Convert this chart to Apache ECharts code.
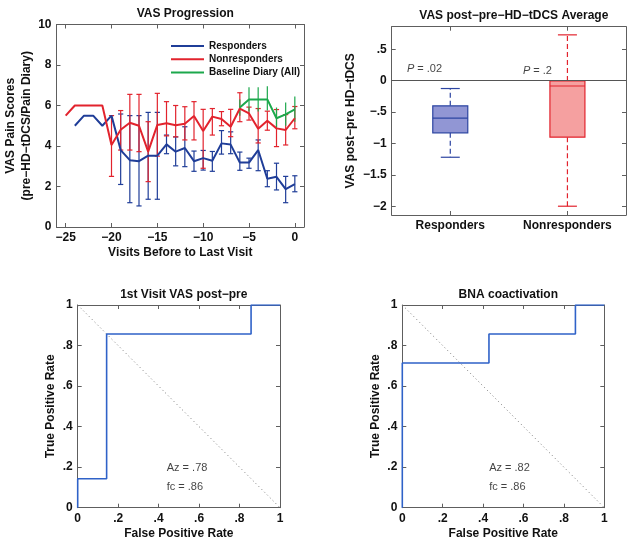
<!DOCTYPE html>
<html><head><meta charset="utf-8">
<script src="https://cdn.jsdelivr.net/npm/echarts@6/dist/echarts.min.js"></script>
<style>html,body{margin:0;padding:0;background:#fff}#c{width:635px;height:545px}</style>
</head><body><div id="c"></div>
<script>
// ---------- DATA ----------
const visits = [-25,-24,-23,-22,-21,-20,-19,-18,-17,-16,-15,-14,-13,-12,-11,-10,-9,-8,-7,-6,-5,-4,-3,-2,-1,0];
const responders = [null,5.0,5.5,5.5,5.0,5.5,3.8,3.3,3.25,3.52,3.52,4.08,3.72,3.9,3.25,3.4,3.27,4.13,4.07,3.18,3.18,3.8,2.38,2.48,1.87,2.12];
const respLow  = [null,null,null,null,null,null,2.1,1.2,1.04,1.37,1.37,3.62,3.02,2.98,2.75,2.81,2.75,3.6,3.62,2.8,2.9,2.78,1.99,1.83,1.2,1.74];
const respHigh = [null,null,null,null,null,null,5.58,5.5,5.5,5.66,5.66,4.54,4.45,4.95,3.75,3.78,3.73,4.76,4.7,3.7,3.4,4.3,2.78,3.15,2.5,2.53];
const nonresponders = [5.5,6.0,6.0,6.0,6.0,4.05,4.8,5.15,5.0,3.72,5.04,5.12,5.02,5.1,5.48,4.74,5.45,5.33,4.95,5.85,5.61,4.85,5.25,4.87,4.79,5.37];
const nonLow  = [null,null,null,null,null,2.5,3.8,3.8,3.72,2.24,3.5,4.5,4.45,4.3,4.3,2.9,4.54,5.0,4.46,5.2,5.28,4.15,4.78,3.97,4.05,4.85];
const nonHigh = [null,null,null,null,null,5.5,5.75,6.55,6.55,5.2,6.6,6.19,6.0,5.94,6.19,5.81,5.85,5.7,5.81,6.63,5.92,5.85,5.72,5.8,5.55,5.95];
const diaryVisits = [-6,-5,-4,-3,-2,-1,0];
const diary     = [5.9,6.3,6.3,6.3,5.37,5.56,5.81];
const diaryLow  = [5.5,5.7,5.7,5.75,4.85,5.0,5.2];
const diaryHigh = [6.3,6.9,6.9,6.95,5.9,6.15,6.45];
const visitTicks = [-25,-20,-15,-10,-5,0];
const visitTickLabels = ['\u221225','\u221220','\u221215','\u221210','\u22125','0'];
const vasTicks = [0,2,4,6,8,10];
const vasTickLabels = ['0','2','4','6','8','10'];

const groups = ['Responders','Nonresponders'];
const groupPos = [1,2];
const boxWhiskerLow  = [-1.22,-2.0];
const boxQ1          = [-0.83,-0.90];
const boxMedian      = [-0.595,-0.085];
const boxQ3          = [-0.40,-0.005];
const boxWhiskerHigh = [-0.125,0.73];
const pTexts = ['.02','.2'];
const pAnchorX = [0.63,1.62];
const pAnchorY = [0.186,0.155];
const diffTicks = [-2,-1.5,-1,-0.5,0,0.5];
const diffTickLabels = ['\u22122','\u22121.5','\u22121','\u2212.5','0','.5'];

const rocTicks = [0,0.2,0.4,0.6,0.8,1];
const rocTickLabels = ['0','.2','.4','.6','.8','1'];
const roc1Fpr = [0,0,0.143,0.143,0.857,0.857,1];
const roc1Tpr = [0,0.143,0.143,0.857,0.857,1,1];
const roc2Fpr = [0,0,0.429,0.429,0.857,0.857,1];
const roc2Tpr = [0,0.714,0.714,0.857,0.857,1,1];
const chanceFpr = [0,1];
const chanceTpr = [1,0];
const roc1Notes = ['Az = .78','fc = .86'];
const roc2Notes = ['Az = .82','fc = .86'];
const noteX = [0.44,0.43];
const noteY = [0.197,0.1];

// ---------- STYLE ----------
const FONT = '"Liberation Sans", Arial, Helvetica, sans-serif';
const FRAME = '#5e5e5e';
const BLUE = '#1f3d98', RED = '#e2232d', GREEN = '#1ca84c', ROC = '#2f62c8';

function fmtFrom(ticks, labels){ return v => { const i = ticks.findIndex(t => Math.abs(t - v) < 1e-6); return i < 0 ? '' : labels[i]; }; }
const nameStyle = {fontFamily:FONT,fontWeight:'bold',fontSize:12,color:'#111',lineHeight:16};

function xPair(gi,min,max,ticks,labels,name,gap){
  return [
    {gridIndex:gi,type:'value',min,max,position:'bottom',name:name||'',nameLocation:'middle',nameGap:gap||0,nameTextStyle:nameStyle,
     axisLine:{show:true,onZero:false,lineStyle:{color:FRAME,width:1}},
     axisTick:{show:true,inside:true,length:4,customValues:ticks,lineStyle:{color:FRAME}},
     axisLabel:{show:true,customValues:ticks,formatter:fmtFrom(ticks,labels),margin:5,color:'#111',fontWeight:'bold',fontSize:12,fontFamily:FONT},
     splitLine:{show:false}},
    {gridIndex:gi,type:'value',min,max,position:'top',
     axisLine:{show:true,onZero:false,lineStyle:{color:FRAME,width:1}},
     axisTick:{show:true,inside:true,length:4,customValues:ticks,lineStyle:{color:FRAME}},
     axisLabel:{show:false},splitLine:{show:false}}
  ];
}
function yPair(gi,min,max,ticks,labels,name,gap){
  return [
    {gridIndex:gi,type:'value',min,max,position:'left',name:name||'',nameLocation:'middle',nameGap:gap||0,nameTextStyle:nameStyle,
     axisLine:{show:true,onZero:false,lineStyle:{color:FRAME,width:1}},
     axisTick:{show:true,inside:true,length:4,customValues:ticks,lineStyle:{color:FRAME}},
     axisLabel:{show:true,customValues:ticks,formatter:fmtFrom(ticks,labels),margin:5,color:'#111',fontWeight:'bold',fontSize:12,fontFamily:FONT},
     splitLine:{show:false}},
    {gridIndex:gi,type:'value',min,max,position:'right',
     axisLine:{show:true,onZero:false,lineStyle:{color:FRAME,width:1}},
     axisTick:{show:true,inside:true,length:4,customValues:ticks,lineStyle:{color:FRAME}},
     axisLabel:{show:false},splitLine:{show:false}}
  ];
}

function errData(xs, lo, hi){ const out=[]; xs.forEach((x,i)=>{ if(lo[i]!=null && hi[i]!=null) out.push([x,lo[i],hi[i]]); }); return out; }
function lineData(xs, ys){ const out=[]; xs.forEach((x,i)=>{ if(ys[i]!=null) out.push([x,ys[i]]); }); return out; }
function errRender(color, capHalf){
  return function(params, api){
    const x = api.value(0);
    const a = api.coord([x, api.value(1)]), b = api.coord([x, api.value(2)]);
    const st = {stroke:color,lineWidth:1.2};
    const ch = [{type:'line',shape:{x1:a[0],y1:a[1],x2:b[0],y2:b[1]},style:st}];
    if(capHalf>0){
      ch.push({type:'line',shape:{x1:a[0]-capHalf,y1:a[1],x2:a[0]+capHalf,y2:a[1]},style:st});
      ch.push({type:'line',shape:{x1:b[0]-capHalf,y1:b[1],x2:b[0]+capHalf,y2:b[1]},style:st});
    }
    return {type:'group',children:ch};
  };
}
function errSeries(xs,lo,hi,color,cap){
  return {type:'custom',xAxisIndex:0,yAxisIndex:0,data:errData(xs,lo,hi),renderItem:errRender(color,cap),encode:{x:0,y:[1,2]},silent:true};
}

const boxFill = ['#9196d4','#f5a0a0'];
const boxStroke = ['#2d45a2','#e2232d'];
const boxData = groupPos.map((p,i)=>[p,boxWhiskerLow[i],boxQ1[i],boxMedian[i],boxQ3[i],boxWhiskerHigh[i]]);
function boxRender(params, api){
  const i = params.dataIndex;
  const c = api.value(0);
  const pMin = api.coord([c,api.value(1)]), pQ1 = api.coord([c,api.value(2)]), pMed = api.coord([c,api.value(3)]),
        pQ3 = api.coord([c,api.value(4)]), pMax = api.coord([c,api.value(5)]);
  const hw = 17.5, cw = 9.5, x = pMed[0];
  const sDash = {stroke:boxStroke[i],lineWidth:1.2,lineDash:[5,3]};
  const sSolid = {stroke:boxStroke[i],lineWidth:1.2};
  return {type:'group',children:[
    {type:'line',shape:{x1:x,y1:pQ3[1],x2:x,y2:pMax[1]},style:sDash},
    {type:'line',shape:{x1:x,y1:pQ1[1],x2:x,y2:pMin[1]},style:sDash},
    {type:'line',shape:{x1:x-cw,y1:pMax[1],x2:x+cw,y2:pMax[1]},style:sSolid},
    {type:'line',shape:{x1:x-cw,y1:pMin[1],x2:x+cw,y2:pMin[1]},style:sSolid},
    {type:'rect',shape:{x:x-hw,y:pQ3[1],width:2*hw,height:pQ1[1]-pQ3[1]},style:{fill:boxFill[i],stroke:boxStroke[i],lineWidth:1.2}},
    {type:'line',shape:{x1:x-hw,y1:pMed[1],x2:x+hw,y2:pMed[1]},style:sSolid}
  ]};
}

function noteSeries(xi, xs, ys, texts, fmt){
  return {type:'scatter',xAxisIndex:xi,yAxisIndex:xi,symbolSize:0,silent:true,
    data: texts.map((t,i)=>({value:[xs[i],ys[i]],name:t})),
    label:{show:true,position:'right',distance:0,formatter:fmt||(p=>p.name),color:'#111',fontSize:11,fontFamily:FONT,
      rich:{i:{fontStyle:'italic',fontSize:11,fontFamily:FONT,color:'#111'}}}};
}

const titleStyle = {fontFamily:FONT,fontWeight:'bold',fontSize:12,color:'#111'};
const option = {
  backgroundColor:'#fff',
  animation:false,
  title:[
    {text:'VAS Progression',left:180.3,top:3,textAlign:'center',textStyle:titleStyle},
    {text:'VAS post\u2212pre\u2212HD\u2212tDCS Average',left:508.8,top:5,textAlign:'center',textStyle:titleStyle},
    {text:'1st Visit VAS post\u2212pre',left:178.8,top:284,textAlign:'center',textStyle:titleStyle},
    {text:'BNA coactivation',left:503.3,top:284,textAlign:'center',textStyle:titleStyle}
  ],
  legend:{left:165,top:36,orient:'vertical',itemWidth:33,itemHeight:10,itemGap:3.3,
    data:['Responders','Nonresponders','Baseline Diary (All)'],
    textStyle:{fontFamily:FONT,fontWeight:'bold',fontSize:10,color:'#111',padding:[0,0,0,0]},itemStyle:{opacity:0}},
  grid:[
    {left:56.5,top:24.5,width:247.5,height:202.5,outerBoundsMode:'none'},
    {left:391.7,top:26.7,width:234.3,height:188.3,outerBoundsMode:'none'},
    {left:77.7,top:305,width:202.3,height:202.7,outerBoundsMode:'none'},
    {left:402.3,top:305,width:202,height:202.7,outerBoundsMode:'none'}
  ],
  xAxis:[].concat(
    xPair(0,-26,1,visitTicks,visitTickLabels,'Visits Before to Last Visit',17.5),
    xPair(1,0.5,2.5,groupPos,groups,'',0),
    xPair(2,0,1,rocTicks,rocTickLabels,'False Positive Rate',17.5),
    xPair(3,0,1,rocTicks,rocTickLabels,'False Positive Rate',17.5)
  ),
  yAxis:[].concat(
    yPair(0,0,10,vasTicks,vasTickLabels,'VAS Pain Scores\n(pre\u2212HD\u2212tDCS/Pain Diary)',19),
    yPair(1,-2.14,0.86,diffTicks,diffTickLabels,'VAS post\u2212pre HD\u2212tDCS',31),
    yPair(2,0,1,rocTicks,rocTickLabels,'True Positive Rate',17.5),
    yPair(3,0,1,rocTicks,rocTickLabels,'True Positive Rate',17)
  ),
  series:[
    errSeries(visits,respLow,respHigh,BLUE,2.6),
    {name:'Responders',type:'line',xAxisIndex:0,yAxisIndex:0,data:lineData(visits,responders),symbol:'none',lineStyle:{color:BLUE,width:2},itemStyle:{color:BLUE}},
    errSeries(visits,nonLow,nonHigh,RED,2.6),
    {name:'Nonresponders',type:'line',xAxisIndex:0,yAxisIndex:0,data:lineData(visits,nonresponders),symbol:'none',lineStyle:{color:RED,width:2},itemStyle:{color:RED}},
    errSeries(diaryVisits,diaryLow,diaryHigh,GREEN,0),
    {name:'Baseline Diary (All)',type:'line',xAxisIndex:0,yAxisIndex:0,data:lineData(diaryVisits,diary),symbol:'none',lineStyle:{color:GREEN,width:2},itemStyle:{color:GREEN}},

    {type:'custom',xAxisIndex:2,yAxisIndex:2,data:boxData,renderItem:boxRender,encode:{x:0,y:[1,2,3,4,5]},silent:true,z:3,
     markLine:{silent:true,symbol:'none',data:[{yAxis:0}],label:{show:false},lineStyle:{color:'#555',type:'solid',width:1.2}}},
    noteSeries(2,pAnchorX,pAnchorY,pTexts,p=>'{i|P} = '+p.name),

    {type:'line',xAxisIndex:4,yAxisIndex:4,data:lineData(chanceFpr,chanceTpr),symbol:'none',silent:true,lineStyle:{color:'#777',width:1,type:[1,3]}},
    {type:'line',xAxisIndex:4,yAxisIndex:4,data:lineData(roc1Fpr,roc1Tpr),symbol:'none',silent:true,lineStyle:{color:ROC,width:1.6}},
    noteSeries(4,[noteX[0],noteX[0]],noteY,roc1Notes),

    {type:'line',xAxisIndex:6,yAxisIndex:6,data:lineData(chanceFpr,chanceTpr),symbol:'none',silent:true,lineStyle:{color:'#777',width:1,type:[1,3]}},
    {type:'line',xAxisIndex:6,yAxisIndex:6,data:lineData(roc2Fpr,roc2Tpr),symbol:'none',silent:true,lineStyle:{color:ROC,width:1.6}},
    noteSeries(6,[noteX[1],noteX[1]],noteY,roc2Notes)
  ]
};
const chart = echarts.init(document.getElementById('c'),null,{renderer:'canvas'});
chart.setOption(option);
</script>
</body></html>
